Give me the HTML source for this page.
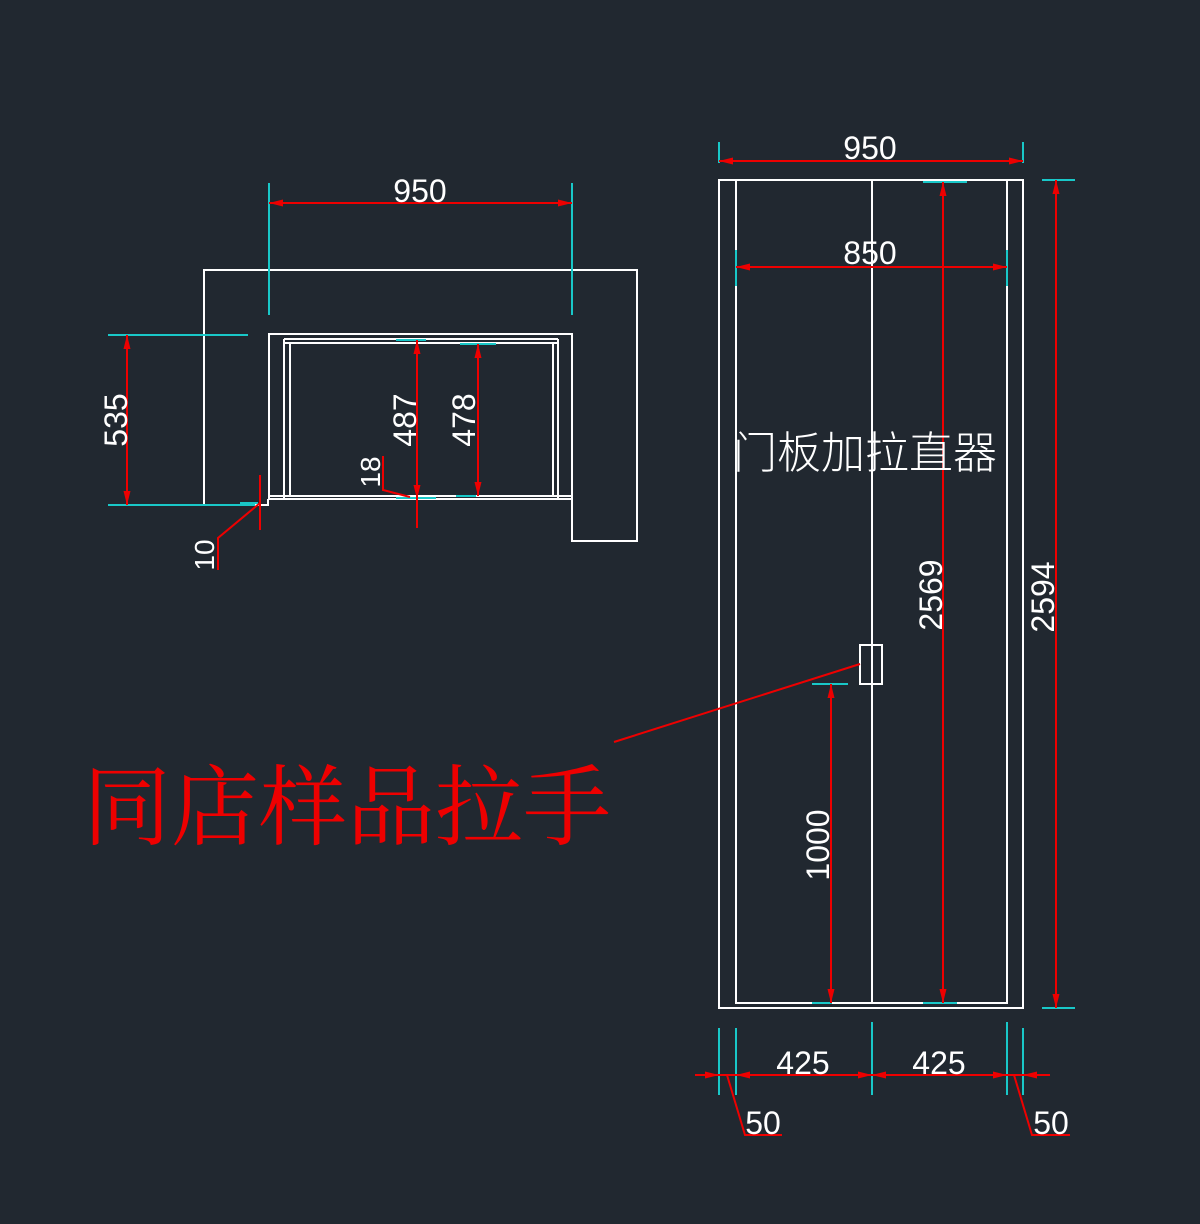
<!DOCTYPE html>
<html><head><meta charset="utf-8"><style>
html,body{margin:0;padding:0;background:#212830;}
svg{display:block}
.w{stroke:#fff;stroke-width:2;fill:none}
.c{stroke:#19c8c8;stroke-width:2;fill:none}
.r{stroke:#e00;stroke-width:2;fill:none}
.t{fill:#fff;font-family:"Liberation Sans",sans-serif;font-size:32px}
</style></head><body>
<svg width="1200" height="1224" viewBox="0 0 1200 1224" xmlns="http://www.w3.org/2000/svg">
<rect width="1200" height="1224" fill="#212830"/>
<defs>
<marker id="a" viewBox="0 0 14 7" refX="14" refY="3.5" markerWidth="14" markerHeight="7" orient="auto-start-reverse" markerUnits="userSpaceOnUse"><path d="M0,0 L14,3.5 L0,7z" fill="#e00"/></marker>
</defs>

<!-- LEFT PLAN -->
<path class="w" d="M204,505 V270 H637 V541 H572 V334 H269 V499"/>
<path class="w" d="M204,505 H268 V499"/>
<path class="w" d="M268,496 H572 M268,499 H572"/>
<path class="w" d="M284,339 H558 M284,343 H558 M284,339 V499 M290,343 V496 M553,343 V496 M558,339 V499"/>
<!-- 950 -->
<path class="c" d="M269,183 V315 M572,183 V315"/>
<line class="r" x1="269" y1="203" x2="572" y2="203" marker-start="url(#a)" marker-end="url(#a)"/>
<text class="t" x="420" y="202" text-anchor="middle">950</text>
<!-- 535 -->
<path class="c" d="M108,335 H248 M108,505 H255"/>
<line class="r" x1="127" y1="335" x2="127" y2="505" marker-start="url(#a)" marker-end="url(#a)"/>
<text class="t" transform="translate(127,420) rotate(-90)" text-anchor="middle">535</text>
<!-- 487 / 478 -->
<path class="c" d="M396,340 H426 M460,344 H496 M396,498 H436 M456,496 H476"/>
<line class="r" x1="417" y1="340" x2="417" y2="499" marker-start="url(#a)" marker-end="url(#a)"/>
<path class="r" d="M417,499 V528"/>
<line class="r" x1="478" y1="344" x2="478" y2="496" marker-start="url(#a)" marker-end="url(#a)"/>
<text class="t" transform="translate(416,420) rotate(-90)" text-anchor="middle">487</text>
<text class="t" transform="translate(475,420) rotate(-90)" text-anchor="middle">478</text>
<!-- 18 -->
<path class="r" d="M383,456 V490 L410,497"/>
<text class="t" style="font-size:28px" transform="translate(380,472) rotate(-90)" text-anchor="middle">18</text>
<!-- 10 -->
<path class="c" d="M240,503 H258"/>
<path class="r" d="M260,475 V530 M260,503 L218,538 V570"/>
<text class="t" style="font-size:28px" transform="translate(214,555) rotate(-90)" text-anchor="middle">10</text>

<!-- DOOR -->
<rect class="w" x="719" y="180" width="304" height="828"/>
<path class="w" d="M736,180 V1003 H1007 V180 M872,180 V1003"/>
<rect class="w" x="860" y="645" width="22" height="39"/>
<!-- 950 top -->
<path class="c" d="M719,142 V163 M1023,142 V163"/>
<line class="r" x1="719" y1="161" x2="1023" y2="161" marker-start="url(#a)" marker-end="url(#a)"/>
<text class="t" x="870" y="159" text-anchor="middle">950</text>
<!-- 850 -->
<path class="c" d="M736,250 V286 M1007,250 V286"/>
<line class="r" x1="736" y1="267" x2="1007" y2="267" marker-start="url(#a)" marker-end="url(#a)"/>
<text class="t" x="870" y="264" text-anchor="middle">850</text>
<!-- 2569 -->
<path class="c" d="M923,182 H967 M923,1003 H957"/>
<line class="r" x1="943" y1="182" x2="943" y2="1003" marker-start="url(#a)" marker-end="url(#a)"/>
<text class="t" transform="translate(942,595) rotate(-90)" text-anchor="middle">2569</text>
<!-- 2594 -->
<path class="c" d="M1042,180 H1075 M1042,1008 H1075"/>
<line class="r" x1="1056" y1="180" x2="1056" y2="1008" marker-start="url(#a)" marker-end="url(#a)"/>
<text class="t" transform="translate(1054,597) rotate(-90)" text-anchor="middle">2594</text>
<!-- 1000 -->
<path class="c" d="M812,684 H848 M812,1003 H832"/>
<line class="r" x1="831" y1="684" x2="831" y2="1003" marker-start="url(#a)" marker-end="url(#a)"/>
<text class="t" transform="translate(829,845) rotate(-90)" text-anchor="middle">1000</text>
<!-- leader -->
<path class="r" d="M860,664 L614,742"/>
<!-- bottom dims -->
<path class="c" d="M719,1028 V1095 M736,1028 V1095 M872,1022 V1095 M1007,1022 V1095 M1023,1028 V1095"/>
<path class="r" d="M695,1075 H1050"/>
<line class="r" x1="736" y1="1075" x2="872" y2="1075" marker-start="url(#a)" marker-end="url(#a)"/>
<line class="r" x1="872" y1="1075" x2="1007" y2="1075" marker-start="url(#a)" marker-end="url(#a)"/>
<line class="r" x1="700" y1="1075" x2="719" y2="1075" marker-end="url(#a)"/>
<line class="r" x1="1045" y1="1075" x2="1023" y2="1075" marker-end="url(#a)"/>
<text class="t" x="803" y="1074" text-anchor="middle">425</text>
<text class="t" x="939" y="1074" text-anchor="middle">425</text>
<path class="r" d="M727,1075 L745,1135 H782 M1014,1075 L1032,1135 H1070"/>
<text class="t" x="763" y="1134" text-anchor="middle">50</text>
<text class="t" x="1051" y="1134" text-anchor="middle">50</text>

<text x="733" y="468" fill="#fff" style="font-family:'Liberation Sans','Noto Sans CJK SC',sans-serif;font-size:44px;font-weight:300">门板加拉直器</text>
<text x="83" y="838" fill="#e00" style="font-family:'Liberation Serif','Noto Serif CJK SC',serif;font-size:88px">同店样品拉手</text>
</svg>
</body></html>
